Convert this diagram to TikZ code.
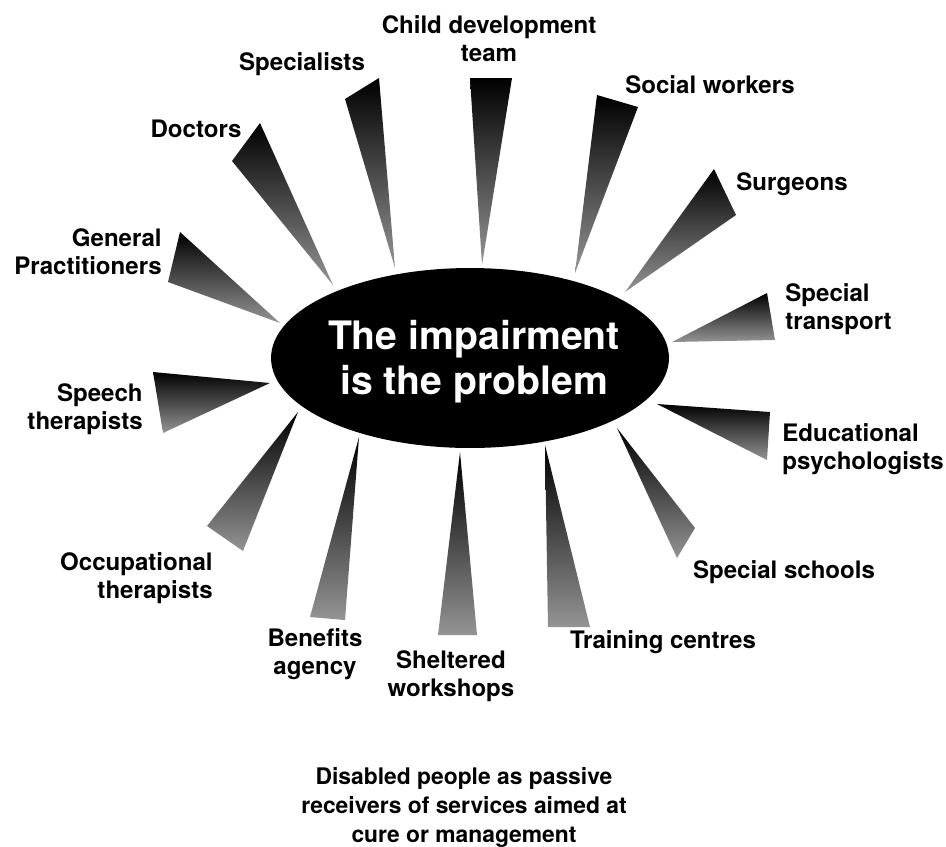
\documentclass[tikz,border=0pt]{standalone}
\usepackage{fontspec}
\setmainfont{TeX Gyre Heros}
\usepackage{xcolor}
\usepackage{tikz}
\usetikzlibrary{shapes.geometric}

\tikzset{
    service/.style={font=\bfseries\fontsize{13.7}{16}\selectfont, inner sep=0pt},
    ray/.style={top color=black, bottom color=black!42},
}

\begin{document}
\begin{tikzpicture}[x=0.02cm, y=-0.02cm]
            \useasboundingbox (0,0) rectangle (946,846);

            % rays, apex first
            \shade[ray] (280,323) -- (180,232) -- (168,282) -- cycle;
            \shade[ray] (333,285) -- (260,123) -- (232,161) -- cycle;
            \shade[ray] (395,268) -- (379,78) -- (345,99) -- cycle;
            \shade[ray] (482,265) -- (470,78) -- (512,78) -- cycle;
            \shade[ray] (575,273) -- (597,95) -- (638,107) -- cycle;
            \shade[ray] (625,292) -- (714,169) -- (736,215) -- cycle;
            \shade[ray] (672,342) -- (767,293) -- (775,340) -- cycle;
            \shade[ray] (657,404) -- (770,412) -- (767,460) -- cycle;
            \shade[ray] (617,428) -- (695,528) -- (677,558) -- cycle;
            \shade[ray] (545,445) -- (548,627) -- (590,627) -- cycle;
            \shade[ray] (460,452) -- (438,635) -- (477,635) -- cycle;
            \shade[ray] (359,437) -- (310,617) -- (345,620) -- cycle;
            \shade[ray] (298,412) -- (207,526) -- (243,551) -- cycle;
            \shade[ray] (270,383) -- (153,372) -- (163,433) -- cycle;

            \node[ellipse, fill=black, inner sep=0pt, minimum width=7.96cm, minimum height=3.6cm] (core) at (470,358) {};
            \node[text=white, align=center, inner sep=0pt, font=\bfseries\fontsize{22.3}{25.6}\selectfont] (problem) at (474,362) {The impairment\\is the problem};

            \node[service, anchor=north east, align=right] (gp) at (162,228) {General\\Practitioners};
            \node[service, anchor=north] (doctors) at (196,120) {Doctors};
            \node[service, anchor=north] (specialists) at (302,52) {Specialists};
            \node[service, anchor=north, align=center] (cdt) at (489,15) {Child development\\team};
            \node[service, anchor=north] (social) at (710,75) {Social workers};
            \node[service, anchor=north] (surgeons) at (792,172) {Surgeons};
            \node[service, anchor=north west, align=left] (transport) at (785,283) {Special\\transport};
            \node[service, anchor=north west, align=left] (edpsych) at (782,423) {Educational\\psychologists};
            \node[service, anchor=north] (schools) at (784,560) {Special schools};
            \node[service, anchor=north] (training) at (663,630) {Training centres};
            \node[service, anchor=north, align=center] (sheltered) at (451,650) {Sheltered\\workshops};
            \node[service, anchor=north, align=center] (benefits) at (315,628) {Benefits\\agency};
            \node[service, anchor=north east, align=right] (ot) at (213,552) {Occupational\\therapists};
            \node[service, anchor=north east, align=right] (speech) at (143,383) {Speech\\therapists};

            \node[anchor=north, align=center, inner sep=0pt, font=\bfseries\fontsize{13}{16.5}\selectfont] (caption) at (464,767) {Disabled people as passive\\receivers of services aimed at\\cure or management};
        \end{tikzpicture}
\end{document}
